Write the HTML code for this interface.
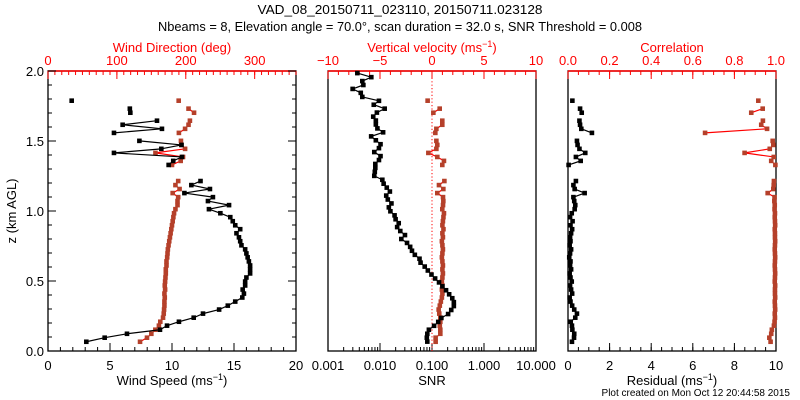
<!DOCTYPE html>
<html><head><meta charset="utf-8"><style>
html,body{margin:0;padding:0;background:#fff}
svg{display:block;font-family:"Liberation Sans",sans-serif}
</style></head><body>
<svg id="chart" width="800" height="400" viewBox="0 0 800 400" xmlns="http://www.w3.org/2000/svg">
<rect x="0" y="0" width="800" height="400" fill="#fff"/>
<text x="400" y="14" text-anchor="middle" font-size="13" textLength="285" lengthAdjust="spacingAndGlyphs">VAD_08_20150711_023110, 20150711.023128</text>
<text x="400" y="31" text-anchor="middle" font-size="13" textLength="484" lengthAdjust="spacingAndGlyphs">Nbeams = 8, Elevation angle = 70.0°, scan duration = 32.0 s, SNR Threshold = 0.008</text>
<text x="790" y="396" text-anchor="end" font-size="10">Plot created on Mon Oct 12 20:44:58 2015</text>
<text transform="translate(16,211) rotate(-90)" text-anchor="middle" font-size="13">z (km AGL)</text>
<g id="plots"></g>
</svg>
<script>
// ---- data ----
const heights1 = [];
for (let i = 0; i < 61; i++) heights1.push(+(0.066 + 0.0287 * i).toFixed(3));
const heights2 = [];
for (let i = 0; i < 69; i++) heights2.push(+(0.067 + 0.0282 * i).toFixed(3));
const N = null;
const windSpeed = [3.09,4.57,6.37,9.03,9.6,10.56,11.75,12.5,13.8,14.5,15.1,15.67,15.8,15.7,15.9,15.9,16.0,16.3,16.3,16.3,16.2,16.1,16.0,15.9,15.6,15.5,15.4,15.2,15.5,15.1,14.9,14.7,13.9,12.98,14.6,12.9,13.3,11.0,13.06,11.56,12.3,N,N,N,9.73,10.1,10.8,5.32,9.14,10.77,7.37,N,5.32,9.19,6.02,8.79,N,6.64,6.6,N,1.91];
const windDir = [133.6,143.7,150,155.8,161,163,167,168,168.5,169,169,169.5,169,170,169.5,170,170.5,171,171,172,172,173,173.5,174,175,176,177,178,179,180,181,182,183,185,188,188,189,181,191,185,189,N,N,N,180,192.6,196,156,199,193.5,193,N,190,199,204,206,N,212,204,N,189.7];
const wVel = [0.35,0.35,0.8,0.8,0.75,0.8,0.8,0.7,0.64,0.75,0.85,0.95,1.0,0.95,1.0,0.95,1.0,1.05,1.0,1.05,1.0,0.95,1.0,1.05,1.0,0.95,1.05,1.0,1.1,1.0,1.05,1.1,1.15,0.99,1.06,1.09,1.06,0.51,1.09,0.67,1.19,N,N,N,0.99,1.15,0.51,-0.35,0.42,0.51,0.42,N,0.32,0.42,0.99,0.99,N,0.13,0.74,N,-0.42];
const snrLog = [-1.09,-1.10,-1.09,-1.06,-0.96,-0.88,-0.82,-0.69,-0.63,-0.58,-0.58,-0.61,-0.67,-0.73,-0.80,-0.865,-0.94,-1.01,-1.08,-1.14,-1.22,-1.24,-1.33,-1.385,-1.42,-1.48,-1.59,-1.52,-1.61,-1.67,-1.64,-1.70,-1.72,-1.80,
-1.83,-1.78,-1.85,-1.88,-1.81,-1.87,-1.93,-1.955,-2.11,-2.10,-2.09,-2.09,-2.02,-1.99,-2.11,-2.02,-1.99,-2.08,-2.17,-1.94,-2.05,-2.08,-2.08,-2.13,-2.06,-1.91,-2.12,-2.02,-2.34,-2.37,-2.526,-2.32,-2.34,-2.167,-2.436];
const residual = [0.19,0.29,0.3,0.21,0.19,0.13,0.35,0.43,0.3,0.2,0.12,0.08,0.2,0.15,0.1,0.18,0.12,0.08,0.15,0.1,0.12,0.06,0.1,0.15,0.08,0.12,0.1,0.15,0.2,0.12,0.22,0.1,0.18,0.32,0.35,0.3,0.26,0.8,0.32,0.26,0.38,N,N,N,0.03,0.61,0.38,0.83,0.55,0.46,0.43,N,1.15,0.64,0.58,0.55,N,0.66,0.58,N,0.21];
const correlation = [0.974,0.968,0.977,0.98,0.99,0.993,0.995,0.994,0.996,0.995,0.994,0.996,0.995,0.995,0.996,0.994,0.995,0.996,0.995,0.994,0.995,0.996,0.995,0.994,0.995,0.996,0.995,0.995,0.994,0.996,0.995,0.994,0.995,0.993,0.994,0.992,0.993,0.96,0.987,0.989,0.99,N,N,N,0.997,0.977,0.989,0.849,0.97,0.987,0.984,N,0.659,0.957,0.929,0.937,N,0.881,0.936,N,0.915];

const ticksSpeed = ["0","5","10","15","20"];
const ticksDir = ["0","100","200","300"];
const ticksW = ["\u221210","\u22125","0","5","10"];
const ticksSnr = ["0.001","0.010","0.100","1.000","10.000"];
const ticksCorr = ["0.0","0.2","0.4","0.6","0.8","1.0"];
const ticksRes = ["0","2","4","6","8","10"];
const ticksZ = ["0.0","0.5","1.0","1.5","2.0"];

// ---- layout ----
const NS = "http://www.w3.org/2000/svg";
const g = document.getElementById('plots');
const TOP = 71, BOT = 351;
const yScale = h => BOT - h / 2.0 * (BOT - TOP);
const RED = "#ff0000", BROWN = "#b5402a";
function el(tag, attrs, parent) {
  const e = document.createElementNS(NS, tag);
  for (const k in attrs) e.setAttribute(k, attrs[k]);
  (parent || g).appendChild(e);
  return e;
}
function lin(d0, d1, r0, r1) { return v => r0 + (v - d0) / (d1 - d0) * (r1 - r0); }

function frame(x0, x1, name) {
  const r = el('rect', {x: x0, y: TOP, width: x1 - x0, height: BOT - TOP, fill: 'none', stroke: '#000', 'stroke-width': 1.3});
  
  
  el('line', {x1: x0, y1: TOP, x2: x1, y2: TOP, stroke: RED, 'stroke-width': 1.5});
}
function xTicks(sc, majors, minors, y, dir, color, labels, labelY, name) {
  const grp = el('g', {});
  
  
  minors.forEach(v => { const x = sc(v); el('line', {x1: x, y1: y, x2: x, y2: y + dir * 4, stroke: color, 'stroke-width': 1}, grp); });
  majors.forEach((v, i) => {
    const x = sc(v);
    el('line', {x1: x, y1: y, x2: x, y2: y + dir * 8, stroke: color, 'stroke-width': 1}, grp);
    const t = el('text', {x: x, y: labelY, 'text-anchor': 'middle', 'font-size': 13, fill: color}, grp);
    t.textContent = labels[i];
    
    
  });
}
function title(x, y, txt, sup, tail, color, name) {
  const t = el('text', {x: x, y: y, 'text-anchor': 'middle', 'font-size': 13, fill: color});
  
  
  t.appendChild(document.createTextNode(txt));
  if (sup) {
    const s = el('tspan', {dy: -5, 'font-size': 9}, t); s.textContent = sup;
    const r = el('tspan', {dy: 5}, t); r.textContent = tail;
  }
}
function range(a, b, s) { const o = []; for (let v = a; v <= b + 1e-9; v += s) o.push(+v.toFixed(6)); return o; }

function series(values, heights, xs, lineColor, markColor, name) {
  const grp = el('g', {});
  
  
  let prev = null;
  values.forEach((v, i) => {
    if (v === null) { prev = null; return; }
    const p = [xs(v), yScale(heights[i])];
    if (prev) el('line', {x1: prev[0], y1: prev[1], x2: p[0], y2: p[1], stroke: lineColor, 'stroke-width': 1.2}, grp);
    prev = p;
  });
  values.forEach((v, i) => {
    if (v === null) return;
    const m = el('rect', {x: xs(v) - 2.3, y: yScale(heights[i]) - 2.3, width: 4.6, height: 4.6, fill: markColor}, grp);
    
    
  });
}

// ---- panel 1 ----
const P1 = [48, 296];
frame(P1[0], P1[1], 'panel-wind-frame');
const xSpeed = lin(0, 20, P1[0], P1[1]);
const xDir = lin(0, 360, P1[0], P1[1]);
xTicks(xSpeed, range(0, 20, 5), range(0, 20, 1), BOT, -1, '#000', ticksSpeed, 370, 'x-axis-wind-speed');
xTicks(xDir, range(0, 300, 100), range(0, 360, 10), TOP, 1, RED, ticksDir, 65, 'x-axis-wind-direction');
// y ticks
(function(){
  const grp = el('g', {});
  
  
  range(0, 2, 0.1).forEach(v => {
    const y = yScale(v); const maj = Math.abs(v * 2 - Math.round(v * 2)) < 1e-6;
    const L = maj ? 8 : 4;
    el('line', {x1: P1[0], y1: y, x2: P1[0] + L, y2: y, stroke: '#000'}, grp);
    el('line', {x1: P1[1], y1: y, x2: P1[1] - L, y2: y, stroke: '#000'}, grp);
  });
  ticksZ.forEach((s, i) => {
    const t = el('text', {x: 44, y: yScale(i * 0.5) + 5, 'text-anchor': 'end', 'font-size': 13}, grp);
    t.textContent = s;
  });
})();
title(172, 385, 'Wind Speed (ms', '\u22121', ')', '#000', 'x-axis-title-wind-speed');
title(172, 52, 'Wind Direction (deg)', null, null, RED, 'x-axis-title-wind-direction');
series(windDir, heights1, xDir, RED, BROWN, 'wind-direction-series');
series(windSpeed, heights1, xSpeed, '#000', '#000', 'wind-speed-series');

// ---- panel 2 ----
const P2 = [328, 536];
frame(P2[0], P2[1], 'panel-velocity-frame');
const xW = lin(-10, 10, P2[0], P2[1]);
const xLog = lin(-3, 1, P2[0], P2[1]);
xTicks(xW, range(-10, 10, 5), range(-10, 10, 1), TOP, 1, RED, ticksW, 65, 'x-axis-vertical-velocity');
(function(){
  const majors = [-3, -2, -1, 0, 1];
  const minors = [];
  for (let d = -3; d < 1; d++) for (let k = 2; k <= 9; k++) minors.push(d + Math.log10(k));
  xTicks(xLog, majors, minors, BOT, -1, '#000', ticksSnr, 370, 'x-axis-snr');
})();
el('line', {x1: xW(0), y1: TOP, x2: xW(0), y2: BOT, stroke: RED, 'stroke-width': 1, 'stroke-dasharray': '1.2,2.2',  });
title(432, 385, 'SNR', null, null, '#000', 'x-axis-title-snr');
title(432, 52, 'Vertical velocity (ms', '\u22121', ')', RED, 'x-axis-title-vertical-velocity');
series(wVel, heights1, xW, RED, BROWN, 'vertical-velocity-series');
series(snrLog, heights2, xLog, '#000', '#000', 'snr-series');

// ---- panel 3 ----
const P3 = [568, 776];
frame(P3[0], P3[1], 'panel-residual-frame');
const xRes = lin(0, 10, P3[0], P3[1]);
const xCorr = lin(0, 1, P3[0], P3[1]);
xTicks(xRes, range(0, 10, 2), range(0, 10, 0.5), BOT, -1, '#000', ticksRes, 370, 'x-axis-residual');
xTicks(xCorr, range(0, 1, 0.2), range(0, 1, 0.05), TOP, 1, RED, ticksCorr, 65, 'x-axis-correlation');
title(672, 385, 'Residual (ms', '\u22121', ')', '#000', 'x-axis-title-residual');
title(672, 52, 'Correlation', null, null, RED, 'x-axis-title-correlation');
series(correlation, heights1, xCorr, RED, BROWN, 'correlation-series');
series(residual, heights1, xRes, '#000', '#000', 'residual-series');
</script>
</body></html>
